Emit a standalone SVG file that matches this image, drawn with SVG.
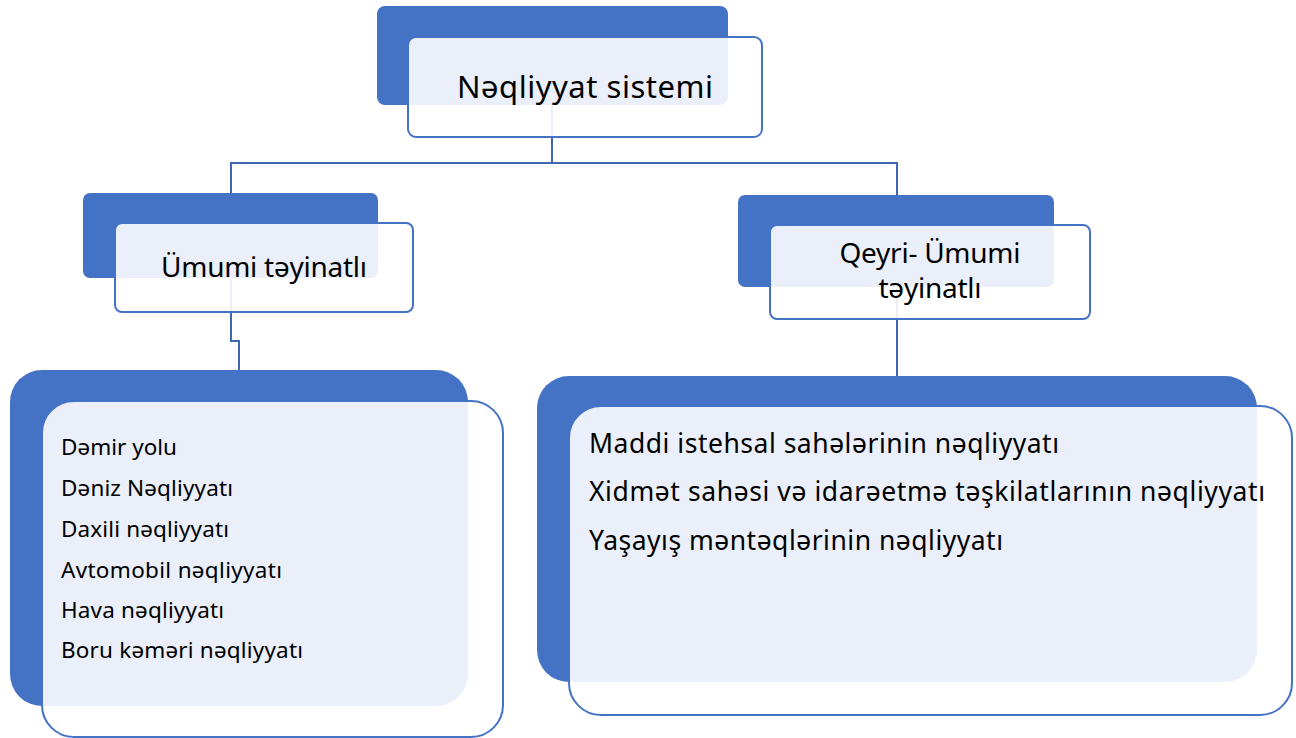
<svg xmlns="http://www.w3.org/2000/svg" width="1296" height="738" viewBox="0 0 1296 738">
<style>
.back{fill:#4472C4;}
.front{fill:#FFFFFF;fill-opacity:0.89;stroke:#4472C4;stroke-width:2;}
.conn{fill:none;stroke:#3F66B0;stroke-width:2;}
text{font-family:"Noto Sans","Open Sans","DejaVu Sans",sans-serif;fill:#000000;}
.t1{font-size:31px;}
.t2{font-size:28px;}
.t3{font-size:22.5px;}
.t4{font-size:26.5px;}
</style>
<rect width="1296" height="738" fill="#FFFFFF"/>
<g id="connectors">
<path class="conn" d="M552,106 V163 M231,193 V163 H897 V195"/>
<path class="conn" d="M231,279 V341 H239 V371"/>
<path class="conn" d="M897,288 V377"/>
</g>
<g id="node-top">
<rect class="back" x="377" y="6" width="351" height="99" rx="8"/>
<rect class="front" x="408" y="37" width="354" height="100" rx="8"/>
<text class="t1" x="585" y="98" text-anchor="middle" textLength="256" lengthAdjust="spacing">Nəqliyyat sistemi</text>
</g>
<g id="node-umumi">
<rect class="back" x="83" y="193" width="295" height="85" rx="7"/>
<rect class="front" x="115" y="223" width="298" height="89" rx="7"/>
<text class="t2" x="264" y="277" text-anchor="middle" textLength="206" lengthAdjust="spacing">Ümumi təyinatlı</text>
</g>
<g id="node-qeyri">
<rect class="back" x="738" y="195" width="316" height="92" rx="7"/>
<rect class="front" x="770" y="225" width="320" height="94" rx="7"/>
<text class="t2" x="930" y="263" text-anchor="middle" textLength="181" lengthAdjust="spacing">Qeyri- Ümumi</text>
<text class="t2" x="930" y="298" text-anchor="middle" textLength="103" lengthAdjust="spacing">təyinatlı</text>
</g>
<g id="node-umumi-list">
<rect class="back" x="10" y="370" width="458" height="336" rx="32"/>
<rect class="front" x="42" y="401" width="461" height="336" rx="32"/>
<text class="t3" x="61" y="455" textLength="116" lengthAdjust="spacing">Dəmir yolu</text>
<text class="t3" x="61" y="496" textLength="172" lengthAdjust="spacing">Dəniz Nəqliyyatı</text>
<text class="t3" x="61" y="537" textLength="168" lengthAdjust="spacing">Daxili nəqliyyatı</text>
<text class="t3" x="61" y="578" textLength="221" lengthAdjust="spacing">Avtomobil nəqliyyatı</text>
<text class="t3" x="61" y="618" textLength="163" lengthAdjust="spacing">Hava nəqliyyatı</text>
<text class="t3" x="61" y="658" textLength="242" lengthAdjust="spacing">Boru kəməri nəqliyyatı</text>
</g>
<g id="node-qeyri-list">
<rect class="back" x="537" y="376" width="720" height="306" rx="32"/>
<rect class="front" x="569" y="406" width="723" height="309" rx="32"/>
<text class="t4" x="589" y="453" textLength="470" lengthAdjust="spacing">Maddi istehsal sahələrinin nəqliyyatı</text>
<text class="t4" x="589" y="501" textLength="676" lengthAdjust="spacing">Xidmət sahəsi və idarəetmə təşkilatlarının nəqliyyatı</text>
<text class="t4" x="589" y="550" textLength="414" lengthAdjust="spacing">Yaşayış məntəqlərinin nəqliyyatı</text>
</g>
</svg>
